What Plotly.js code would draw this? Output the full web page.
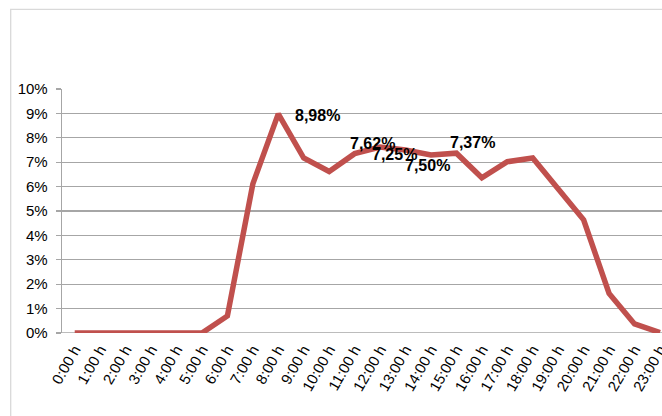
<!DOCTYPE html>
<html>
<head>
<meta charset="utf-8">
<script src="https://cdn.plot.ly/plotly-3.0.1.min.js"></script>
<style>html,body{margin:0;padding:0;background:#fff;}#chart{width:662px;height:416px;}</style>
</head>
<body>
<div id="chart"></div>
<script>
var hours = ["0:00 h","1:00 h","2:00 h","3:00 h","4:00 h","5:00 h","6:00 h","7:00 h","8:00 h","9:00 h","10:00 h","11:00 h","12:00 h","13:00 h","14:00 h","15:00 h","16:00 h","17:00 h","18:00 h","19:00 h","20:00 h","21:00 h","22:00 h","23:00 h"];
var shares = [0,0,0,0,0,0,0.70,6.11,8.98,7.17,6.62,7.35,7.62,7.50,7.30,7.37,6.36,7.02,7.17,5.90,4.64,1.62,0.37,0.02];
var labelTexts = ["8,98%","7,62%","7,25%","7,50%","7,37%"];
var labelX = [9.56,11.71,12.55,13.88,15.65];
var labelY = [8.90,7.78,7.30,6.85,7.80];
var yTickVals = [0,1,2,3,4,5,6,7,8,9,10];
var yTickText = ["0%","1%","2%","3%","4%","5%","6%","7%","8%","9%","10%"];

var idx = hours.map(function(_, i){ return i; });
var trace = {
  x: idx, y: shares, type: 'scatter', mode: 'lines',
  line: {color: '#c0504d', width: 5.5},
  hoverinfo: 'skip'
};
var annotations = labelTexts.map(function(t, i){
  return {x: labelX[i], y: labelY[i], xref: 'x', yref: 'y', text: '<b>' + t + '</b>', showarrow: false,
    font: {family: 'Liberation Sans, Arial, sans-serif', size: 16, color: '#000'},
    xanchor: 'center', yanchor: 'middle'};
});
var layout = {
  width: 662, height: 416,
  margin: {l: 62, r: 0, t: 89, b: 82.5},
  paper_bgcolor: '#fff', plot_bgcolor: '#fff',
  showlegend: false,
  font: {family: 'Liberation Sans, Arial, sans-serif', color: '#000'},
  xaxis: {
    range: [-0.5, 23.08], tickmode: 'array', tickvals: idx, ticktext: hours,
    tickangle: -60, tickfont: {size: 15, color: '#000'}, ticklabeloverflow: 'allow',
    ticklabelstandoff: 4,
    showgrid: false, zeroline: false, showline: false, ticks: '', fixedrange: true
  },
  yaxis: {
    range: [0, 10], tickmode: 'array', tickvals: yTickVals, ticktext: yTickText,
    tickfont: {size: 15, color: '#000'}, ticklabelstandoff: 5,
    showgrid: true, gridcolor: '#a6a6a6', gridwidth: 1.3,
    zeroline: false, showline: true, linecolor: '#a6a6a6', linewidth: 1.3,
    ticks: 'outside', ticklen: 5, tickcolor: '#a6a6a6', tickwidth: 1.3, fixedrange: true
  },
  shapes: [
    {type: 'rect', xref: 'paper', yref: 'paper', x0: -0.0855, x1: 1.02, y0: -0.4, y1: 1.326,
     line: {color: '#d9d9d9', width: 1.3}, fillcolor: 'rgba(0,0,0,0)', layer: 'below'},
    {type: 'line', xref: 'paper', yref: 'y', x0: 0, x1: 1, y0: 0, y1: 0,
     line: {color: '#a6a6a6', width: 1.3}, layer: 'below'}
  ],
  annotations: annotations
};
Plotly.newPlot('chart', [trace], layout, {staticPlot: true, displayModeBar: false});
</script>
</body>
</html>
